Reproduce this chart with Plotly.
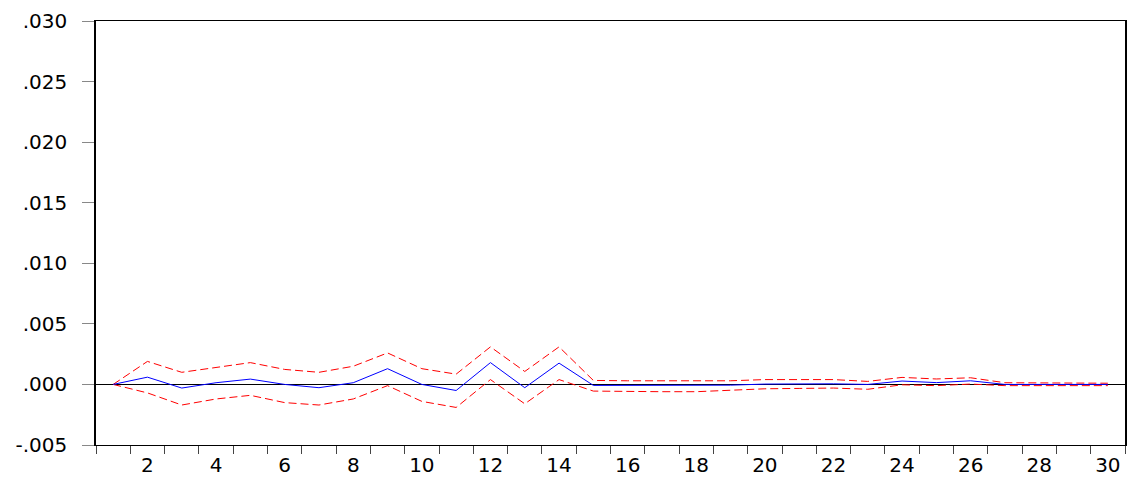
import plotly.graph_objects as go

periods = list(range(1, 31))
response = [0.0, 0.0006, -0.0003, 0.00014, 0.00044, 0.0, -0.00027, 0.00014, 0.0013, 0.0,
            -0.0005, 0.0018, -0.00027, 0.00176, -0.00008, -0.00008, -0.0001, -0.0001, -0.00006, 0.00003,
            0.00005, 0.00005, 0.0, 0.00028, 0.00015, 0.0003, 0.0, 0.0, 0.0, 0.0]
upper = [0.0, 0.0019, 0.001, 0.0014, 0.0018, 0.00124, 0.001, 0.0015, 0.0026, 0.0013,
         0.00085, 0.0031, 0.00107, 0.0031, 0.00033, 0.0003, 0.00028, 0.00028, 0.0003, 0.0004,
         0.00038, 0.0004, 0.00025, 0.00058, 0.00045, 0.00055, 0.00014, 0.00012, 0.0001, 0.0001]
lower = [0.0, -0.0007, -0.0017, -0.0012, -0.0009, -0.0015, -0.0017, -0.0012, -0.0001, -0.0014,
         -0.0019, 0.0004, -0.0016, 0.0004, -0.00055, -0.0006, -0.0006, -0.0006, -0.0005, -0.00036,
         -0.00033, -0.0003, -0.0004, -0.00003, -0.0001, 0.00003, -0.0001, -0.0001, -0.0001, -0.0001]

y_tickvals = [-0.005, 0.0, 0.005, 0.010, 0.015, 0.020, 0.025, 0.030]
y_ticktext = ["-.005", ".000", ".005", ".010", ".015", ".020", ".025", ".030"]
x_tickvals = list(range(2, 31, 2))
x_ticktext = [str(v) for v in x_tickvals]

fig = go.Figure()
fig.add_trace(go.Scatter(x=periods, y=upper, mode="lines",
                         line=dict(color="#ff0000", width=1, dash="8px,4px")))
fig.add_trace(go.Scatter(x=periods, y=lower, mode="lines",
                         line=dict(color="#ff0000", width=1, dash="8px,4px")))
fig.add_trace(go.Scatter(x=periods, y=response, mode="lines",
                         line=dict(color="#0000ff", width=1)))

font = dict(family="DejaVu Sans", size=20, color="black")

# page body has an 8px margin, so the figure is sized/offset to compensate
fig.update_layout(
    width=1128, height=469,
    margin=dict(l=88, r=11, t=13, b=32),
    paper_bgcolor="white", plot_bgcolor="white",
    showlegend=False,
    font=font,
    xaxis=dict(range=[0.5, 30.5], tickmode="array", tickvals=x_tickvals, ticktext=x_ticktext,
               ticks="", showgrid=False, zeroline=False, automargin=False,
               showline=True, mirror=True, linecolor="black", linewidth=1,
               minor=dict(tick0=0.5, dtick=1, ticks="outside", ticklen=8, tickcolor="#444",
                          showgrid=False),
               ticklabelstandoff=2, tickfont=font),
    yaxis=dict(range=[-0.005, 0.030], tickmode="array", tickvals=y_tickvals, ticktext=y_ticktext,
               ticks="outside", ticklen=12, tickcolor="#888", showgrid=False,
               zeroline=True, zerolinecolor="black", zerolinewidth=1, automargin=False,
               showline=True, mirror=True, linecolor="black", linewidth=1.5,
               ticklabelstandoff=11, tickfont=font),
)

fig.write_html("out.html")
